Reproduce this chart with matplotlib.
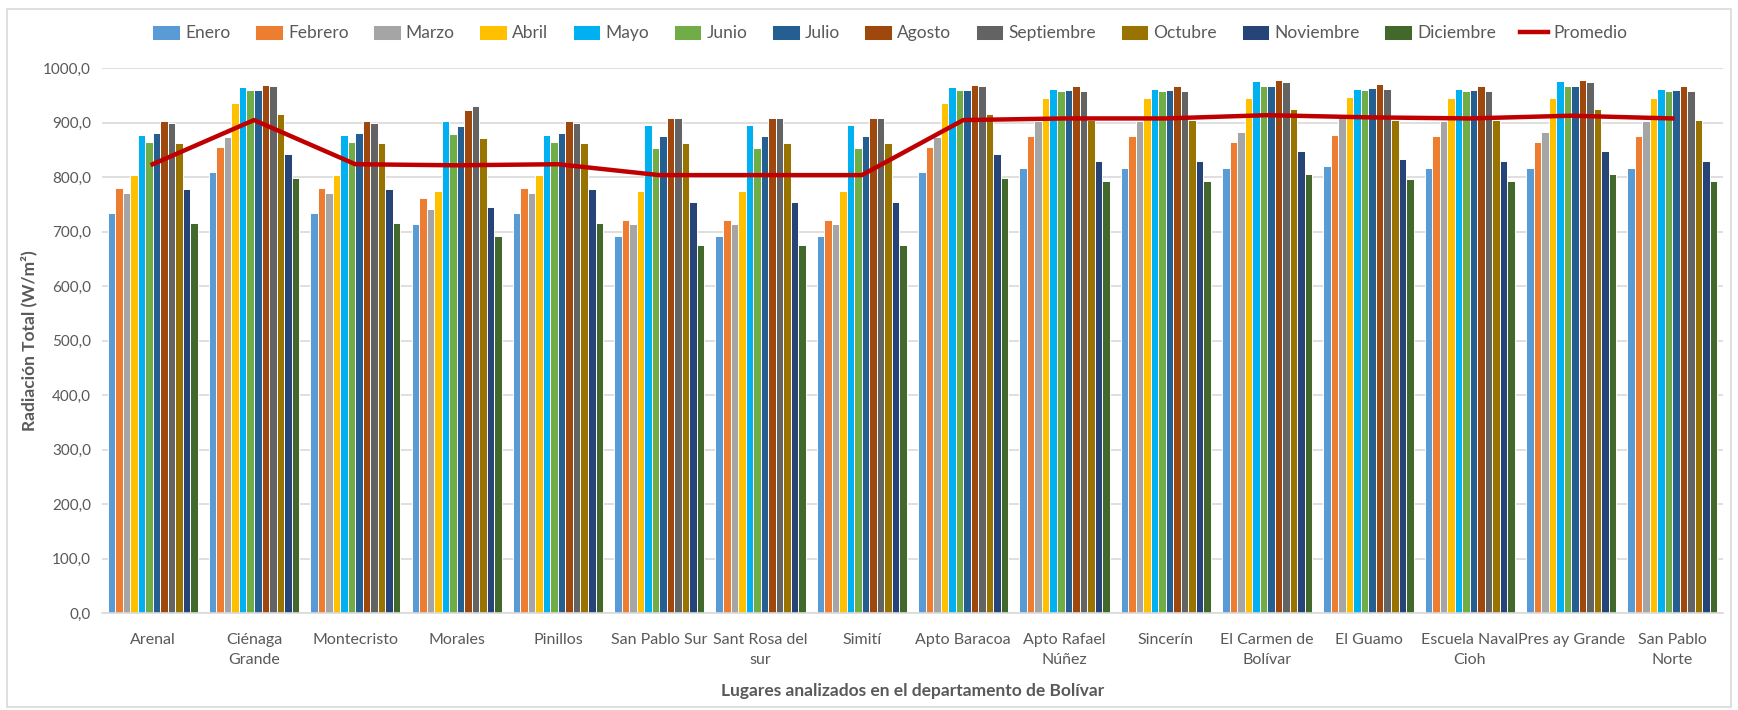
import matplotlib
matplotlib.use("Agg")
import matplotlib.pyplot as plt
import numpy as np
from matplotlib.patches import Rectangle

plt.rcParams['font.family'] = ['Lato', 'DejaVu Sans']

lugares = ["Arenal", "Ciénaga\nGrande", "Montecristo", "Morales", "Pinillos",
           "San Pablo Sur", "Sant Rosa del\nsur", "Simití", "Apto Baracoa",
           "Apto Rafael\nNúñez", "Sincerín", "El Carmen de\nBolívar", "El Guamo",
           "Escuela Naval\nCioh", "Pres ay Grande", "San Pablo\nNorte"]

meses = ["Enero", "Febrero", "Marzo", "Abril", "Mayo", "Junio", "Julio",
         "Agosto", "Septiembre", "Octubre", "Noviembre", "Diciembre"]

colores = ["#5B9BD5", "#ED7D31", "#A5A5A5", "#FFC000", "#00B0F0", "#70AD47",
           "#255E91", "#9E480E", "#636363", "#997300", "#264478", "#43682B"]

# rows: lugares, columns: meses
arenal = [735, 780, 771, 804, 878, 864, 881, 903, 899, 863, 778, 717]
cienaga = [810, 856, 874, 936, 966, 960, 960, 969, 967, 917, 842, 799]
morales = [714, 762, 742, 775, 903, 879, 895, 923, 930, 873, 746, 693]
san_pablo_sur = [692, 722, 714, 775, 896, 854, 876, 909, 909, 863, 754, 676]
rafael = [817, 876, 904, 945, 962, 958, 961, 968, 958, 905, 830, 793]
carmen = [817, 864, 884, 945, 977, 968, 968, 978, 975, 925, 848, 806]
guamo = [820, 878, 908, 948, 962, 960, 964, 971, 962, 905, 834, 797]
san_pablo_norte = [817, 876, 904, 945, 962, 958, 961, 968, 958, 906, 830, 793]

valores = [arenal, cienaga, arenal, morales, arenal, san_pablo_sur,
           san_pablo_sur, san_pablo_sur, cienaga, rafael, rafael, carmen,
           guamo, rafael, carmen, san_pablo_norte]

promedio = [824, 905, 824, 822, 824, 804, 804, 804, 905, 908, 908, 914,
            910, 908, 913, 908]

fig = plt.figure(figsize=(17.38, 7.10), dpi=100)
ax = fig.add_axes([0.0587, 0.1362, 0.9327, 0.7676])

data = np.array(valores)
n = len(meses)
x = np.arange(len(lugares))
group_w = 0.89
bw = group_w / n
for j in range(n):
    pos = x - group_w / 2 + bw * (j + 0.5)
    ax.bar(pos, data[:, j], width=bw, color=colores[j], edgecolor="white",
           linewidth=0.7, label=meses[j], zorder=2)

ax.plot(x, promedio, color="#C00000", linewidth=3.2, label="Promedio", zorder=3)

ax.set_ylim(0, 1000)
ax.set_xlim(-0.5, len(lugares) - 0.5)
ax.set_yticks(np.arange(0, 1001, 100))
ax.set_yticklabels([f"{v:.1f}".replace(".", ",") for v in range(0, 1001, 100)],
                   fontsize=11, color="#595959")
ax.set_xticks(x)
ax.set_xticklabels(lugares, fontsize=11.5, color="#595959", linespacing=1.6)
ax.tick_params(axis="both", length=0)
ax.tick_params(axis="x", pad=14)
ax.tick_params(axis="y", pad=8)
ax.grid(axis="y", color="#D9D9D9", linewidth=1.2, zorder=0)
ax.set_axisbelow(True)
for s in ["top", "right", "left"]:
    ax.spines[s].set_visible(False)
ax.spines["bottom"].set_color("#D9D9D9")
ax.spines["bottom"].set_linewidth(1.2)

ax.set_ylabel("Radiación Total (W/m²)", fontsize=12.5, fontweight="bold",
              color="#595959", labelpad=4)
ax.set_xlabel("Lugares analizados en el departamento de Bolívar", fontsize=12.5,
              fontweight="bold", color="#595959", labelpad=11)

handles, labels = ax.get_legend_handles_labels()
order = list(range(1, len(handles))) + [0]
handles = [handles[i] for i in order]
labels = [labels[i] for i in order]
fig.legend(handles, labels, loc="center", bbox_to_anchor=(0.512, 0.953),
           ncol=13, frameon=False, fontsize=12.5, handlelength=1.6,
           handleheight=0.9, handletextpad=0.3, columnspacing=1.4,
           labelcolor="#595959")

fig.patches.append(Rectangle((0.004, 0.004), 0.992, 0.984, transform=fig.transFigure,
                             fill=False, edgecolor="#D9D9D9", linewidth=1.2))

fig.savefig("out.png", dpi=100)
